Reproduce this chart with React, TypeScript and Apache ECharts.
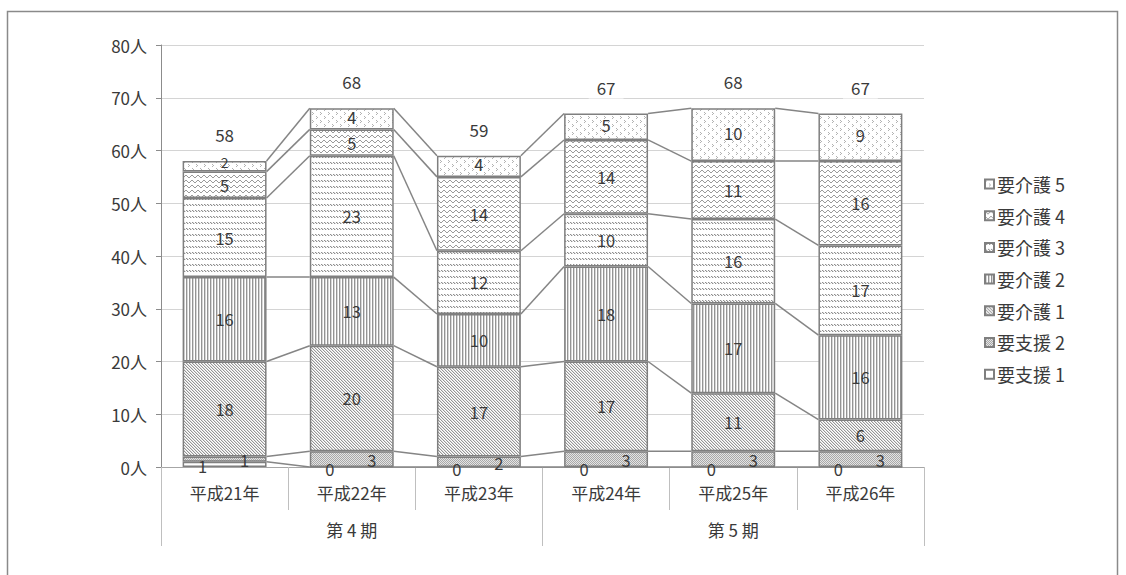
import React, { useEffect, useRef } from 'react';
import * as echarts from 'echarts';

// 年度別・要介護度別の人数
const years = ['平成21年', '平成22年', '平成23年', '平成24年', '平成25年', '平成26年'];
const periods = ['第 4 期', '第 5 期'];

const yoshien1 = [1, 0, 0, 0, 0, 0];
const yoshien2 = [1, 3, 2, 3, 3, 3];
const kaigo1 = [18, 20, 17, 17, 11, 6];
const kaigo2 = [16, 13, 10, 18, 17, 16];
const kaigo3 = [15, 23, 12, 10, 16, 17];
const kaigo4 = [5, 5, 14, 14, 11, 16];
const kaigo5 = [2, 4, 4, 5, 10, 9];

const seriesNames = ['要支援 1', '要支援 2', '要介護 1', '要介護 2', '要介護 3', '要介護 4', '要介護 5'];
const seriesValues = [yoshien1, yoshien2, kaigo1, kaigo2, kaigo3, kaigo4, kaigo5];

const yMin = 0;
const yMax = 80;
const yStep = 10;

const FONT = '"Noto Sans CJK JP", "Noto Sans", sans-serif';
const BORDER = '#7f7f7f';
const TEXT = '#3a3a3a';

// small pixel tiles used as fill patterns
function tile(rows: string[], inks: Record<string, string>, bg = '#ffffff') {
  const h = rows.length;
  const w = rows[0].length;
  const c = document.createElement('canvas');
  c.width = w;
  c.height = h;
  const ctx = c.getContext('2d')!;
  ctx.fillStyle = bg;
  ctx.fillRect(0, 0, w, h);
  rows.forEach((r, y) => {
    for (let x = 0; x < w; x++) {
      const col = inks[r[x]];
      if (col) {
        ctx.fillStyle = col;
        ctx.fillRect(x, y, 1, 1);
      }
    }
  });
  return { image: c.toDataURL(), repeat: 'repeat', imageWidth: w, imageHeight: h };
}

function makePatterns() {
  return [
    // 要支援1: sparse dots
    tile(['........', '........', '+.......', '........'], { '+': '#b0b0b0' }),
    // 要支援2: fine stipple
    tile(['#.', '.#'], { '#': '#a8a8a8' }, '#e4e4e4'),
    // 要介護1: downward diagonal
    tile(['#+.', '.#+', '+.#'], { '#': '#959595', '+': '#dedede' }),
    // 要介護2: vertical lines
    tile(['#+.'], { '#': '#939393', '+': '#d6d6d6' }),
    // 要介護3: rows of short dashes
    tile(['#+.', '.#+', '...', '...', '...', '...'], { '#': '#8f8f8f', '+': '#d8d8d8' }),
    // 要介護4: waves
    tile(['#....#', '.#..#.', '..##..', '......', '......'], { '#': '#9a9a9a' }),
    // 要介護5: sparse chevrons
    tile(
      ['#.......', '.#......', '#.......', '........', '....#...', '.....#..', '....#...', '........'],
      { '#': '#b2b2b2' }
    ),
  ];
}

export default function App() {
  const ref = useRef<HTMLDivElement>(null);

  useEffect(() => {
    if (!ref.current) return;
    const chart = echarts.init(ref.current, null, { renderer: 'svg' });
    const patterns = makePatterns();

    // cumulative tops of each stacked segment
    const tops: number[][] = [];
    seriesValues.forEach((vals, k) => {
      tops.push(vals.map((v, i) => (k === 0 ? v : tops[k - 1][i] + v)));
    });
    const totals = tops[tops.length - 1];

    const barRatio = 0.66;

    const barSeries = seriesNames.map((name, k) => {
      let offset: number[] = [0, 0];
      if (k === 0) offset = [-22, 2];
      if (k === 1) offset = [20, 1];
      if (k === 6) offset = [0, -2];
      // a very thin top segment gets a smaller label lifted clear of the one below
      const data = seriesValues[k].map((v) =>
        k === 6 && v <= 2 ? { value: v, label: { fontSize: 14, offset: [0, -4] } } : v
      );
      return {
        name,
        type: 'bar',
        stack: 'total',
        barWidth: barRatio * 100 + '%',
        data,
        itemStyle: { color: patterns[k], borderColor: BORDER, borderWidth: 1.5 },
        label: {
          show: true,
          position: 'inside',
          offset,
          formatter: '{c}',
          color: TEXT,
          textBorderWidth: 0,
          fontSize: 16.5,
          lineHeight: 16,
          fontFamily: FONT,
        },
        emphasis: { disabled: true },
      };
    });

    // series lines joining the tops of matching segments of neighbouring bars
    const lineData: number[][] = [];
    tops.forEach((t) => {
      for (let i = 0; i < t.length - 1; i++) lineData.push([i, t[i], t[i + 1]]);
    });

    const connector = {
      type: 'custom',
      name: 'connector',
      silent: true,
      data: lineData,
      encode: { x: 0, y: [1, 2] },
      renderItem: (params: any, api: any) => {
        const i = api.value(0);
        const p1 = api.coord([i, api.value(1)]);
        const p2 = api.coord([i + 1, api.value(2)]);
        const half = (api.size([1, 0])[0] * barRatio) / 2;
        return {
          type: 'line',
          shape: { x1: p1[0] + half, y1: p1[1], x2: p2[0] - half, y2: p2[1] },
          style: { stroke: '#858585', lineWidth: 1.5 },
        };
      },
      z: 3,
    };

    const totalLabels = {
      type: 'scatter',
      name: 'total',
      silent: true,
      symbolSize: 0,
      data: totals,
      itemStyle: { opacity: 1 },
      label: {
        show: true,
        position: 'top',
        distance: 15,
        formatter: '{c}',
        color: TEXT,
        textBorderWidth: 0,
        fontSize: 17,
        fontFamily: FONT,
        backgroundColor: '#ffffff',
        padding: [3, 8, 3, 8],
      },
      z: 4,
    };

    chart.setOption({
      animation: false,
      backgroundColor: '#ffffff',
      textStyle: { fontFamily: FONT },
      graphic: [
        {
          type: 'rect',
          x: 7.5,
          y: 11.5,
          shape: { x: 0, y: 0, width: 1110, height: 700 },
          style: { fill: 'none', stroke: '#8a8a8a', lineWidth: 1.5 },
          silent: true,
          z: -10,
        },
      ],
      grid: { left: 161, right: 202, top: 45, bottom: 108, containLabel: false },
      legend: {
        orient: 'vertical',
        left: 979,
        top: 170,
        itemWidth: 9,
        itemHeight: 9,
        itemGap: 13.7,
        icon: 'rect',
        data: seriesNames.slice().reverse(),
        textStyle: { fontSize: 18, color: TEXT, fontFamily: FONT, padding: [0, 0, 0, -2] },
        selectedMode: false,
      },
      xAxis: [
        {
          type: 'category',
          data: years,
          position: 'bottom',
          axisLine: { show: true, lineStyle: { color: '#a6a6a6', width: 1 } },
          axisTick: { show: true, length: 43, lineStyle: { color: '#bfbfbf' } },
          axisLabel: { margin: 17, fontSize: 17, color: TEXT, fontFamily: FONT },
          splitLine: { show: false },
        },
        {
          type: 'category',
          data: periods,
          position: 'bottom',
          axisLine: { show: false },
          axisTick: { show: true, length: 79, lineStyle: { color: '#bfbfbf' } },
          axisLabel: { margin: 54, fontSize: 17, color: TEXT, fontFamily: FONT },
          splitLine: { show: false },
        },
      ],
      yAxis: {
        type: 'value',
        min: yMin,
        max: yMax,
        interval: yStep,
        axisLine: { show: true, lineStyle: { color: '#8c8c8c' } },
        axisTick: { show: true, length: 5, lineStyle: { color: '#8c8c8c' } },
        axisLabel: { formatter: '{value}人', margin: 14, fontSize: 17, color: TEXT, fontFamily: FONT },
        splitLine: { show: true, lineStyle: { color: '#d4d4d4', width: 1 } },
      },
      series: [...barSeries, connector, totalLabels],
    });

    return () => chart.dispose();
  }, []);

  return (
    <div
      ref={ref}
      style={{ position: 'absolute', left: 0, top: 0, width: 1126, height: 575, background: '#fff' }}
    />
  );
}
